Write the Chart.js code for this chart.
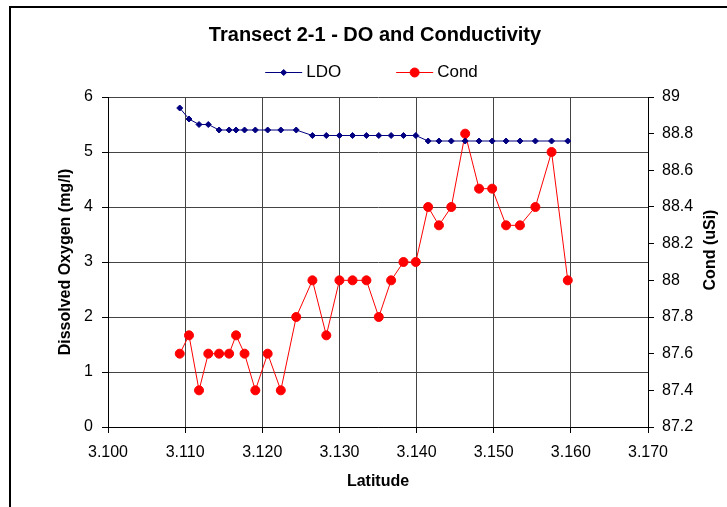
<!DOCTYPE html>
<html>
<head>
<meta charset="utf-8">
<script src="https://cdn.jsdelivr.net/npm/chart.js@4.4.1/dist/chart.umd.min.js"></script>
<style>
  html, body { margin: 0; padding: 0; background: #fff; overflow: hidden; }
  #wrap { position: relative; width: 727px; height: 507px; }
  #frame { position: absolute; left: 9px; top: 6px; width: 900px; height: 900px; border: 2px solid #000; }
  #c { position: absolute; left: 0; top: 0; }
</style>
</head>
<body>
<div id="wrap">
  <div id="frame"></div>
  <canvas id="c" width="727" height="507"></canvas>
</div>
<script>
// ── dati ──
const latitude = [
  3.1093, 3.1105, 3.1118, 3.1130, 3.1144, 3.1157, 3.1166, 3.1177, 3.1191, 3.1207, 3.1224,
  3.1244, 3.1265, 3.1283, 3.1300, 3.1317, 3.1335, 3.1351, 3.1367, 3.1383, 3.1399, 3.1415,
  3.1429, 3.1445, 3.1463, 3.1481, 3.1498, 3.1516, 3.1534, 3.1554, 3.1575, 3.1596
];
const ldo = [
  5.8, 5.6, 5.5, 5.5, 5.4, 5.4, 5.4, 5.4, 5.4, 5.4, 5.4,
  5.4, 5.3, 5.3, 5.3, 5.3, 5.3, 5.3, 5.3, 5.3, 5.3, 5.2,
  5.2, 5.2, 5.2, 5.2, 5.2, 5.2, 5.2, 5.2, 5.2, 5.2
];
const cond = [
  87.6, 87.7, 87.4, 87.6, 87.6, 87.6, 87.7, 87.6, 87.4, 87.6, 87.4,
  87.8, 88.0, 87.7, 88.0, 88.0, 88.0, 87.8, 88.0, 88.1, 88.1, 88.4,
  88.3, 88.4, 88.8, 88.5, 88.5, 88.3, 88.3, 88.4, 88.7, 88.0
];
const xRange = [3.100, 3.170];
const doRange = [0, 6];
const condRange = [87.2, 89];

const FONT = "'Liberation Sans', Arial, sans-serif";
Chart.defaults.font.family = FONT;
Chart.defaults.color = '#000';

// legenda stile Excel (linea + marker) e titolo asse destro
const excelExtras = {
  id: 'excelExtras',
  afterDraw(chart) {
    const ctx = chart.ctx;
    const y = 72;
    ctx.save();
    ctx.font = '17px ' + FONT;
    const items = chart.data.datasets.map(ds => ({ ds, w: ctx.measureText(ds.label).width }));
    const lineLen = 37, gap = 4, itemGap = 55;
    const total = items.reduce((s, it) => s + lineLen + gap + it.w, 0) + itemGap * (items.length - 1);
    let x = chart.width / 2 + 8 - total / 2;
    items.forEach(({ ds, w }) => {
      ctx.strokeStyle = ds.borderColor;
      ctx.lineWidth = 1;
      ctx.beginPath();
      ctx.moveTo(x, y + 0.5);
      ctx.lineTo(x + lineLen, y + 0.5);
      ctx.stroke();
      ctx.fillStyle = ds.backgroundColor;
      Chart.helpers.drawPoint(ctx, {
        pointStyle: ds.pointStyle, radius: ds.pointRadius, rotation: 0, borderWidth: 1
      }, x + lineLen / 2, y + 0.5);
      ctx.fillStyle = '#000';
      ctx.textAlign = 'left';
      ctx.textBaseline = 'middle';
      ctx.fillText(ds.label, x + lineLen + gap, y);
      x += lineLen + gap + w + itemGap;
    });
    // Cond (uSi) ruotato come in Excel
    ctx.translate(711, 250);
    ctx.rotate(-Math.PI / 2);
    ctx.font = 'bold 16px ' + FONT;
    ctx.textAlign = 'center';
    ctx.fillText('Cond (uSi)', 0, 0);
    ctx.restore();
  }
};

new Chart(document.getElementById('c'), {
  type: 'line',
  data: {
    datasets: [
      {
        label: 'LDO', yAxisID: 'y',
        data: latitude.map((x, i) => ({ x, y: ldo[i] })),
        borderColor: '#000080', backgroundColor: '#000080', borderWidth: 1,
        pointStyle: 'rectRot', pointRadius: 3, pointBorderWidth: 1, tension: 0
      },
      {
        label: 'Cond', yAxisID: 'y1',
        data: latitude.map((x, i) => ({ x, y: cond[i] })),
        borderColor: '#FF0000', backgroundColor: '#FF0000', borderWidth: 1,
        pointStyle: 'circle', pointRadius: 4.5, pointBorderWidth: 1, tension: 0
      }
    ]
  },
  options: {
    responsive: false,
    animation: false,
    devicePixelRatio: 1,
    layout: { padding: { left: 23, right: 0, top: 0, bottom: 0 } },
    plugins: {
      legend: { display: false },
      tooltip: { enabled: false },
      title: {
        display: true, text: 'Transect 2-1 - DO and Conductivity', color: '#000',
        font: { size: 20, weight: 'bold' }, padding: { top: 23, bottom: 50 }
      }
    },
    scales: {
      x: {
        type: 'linear', position: 'bottom', min: xRange[0], max: xRange[1],
        ticks: { stepSize: 0.01, callback: v => v.toFixed(3), font: { size: 16 }, padding: 10, maxRotation: 0 },
        grid: { color: '#444', tickColor: '#000', tickLength: 6 },
        border: { color: '#000' },
        title: { display: true, text: 'Latitude', font: { size: 16, weight: 'bold' }, padding: { top: 4, bottom: 16 } },
        afterFit: s => { s.height = 80; }
      },
      y: {
        position: 'left', min: doRange[0], max: doRange[1],
        ticks: { stepSize: 1, font: { size: 16 }, padding: 9 },
        grid: { color: '#444', tickColor: '#000', tickLength: 6 },
        border: { color: '#000' },
        title: { display: true, text: 'Dissolved Oxygen (mg/l)', font: { size: 16, weight: 'bold' }, padding: { top: 33, bottom: 4 } },
        afterFit: s => { s.width = 85; }
      },
      y1: {
        position: 'right', min: condRange[0], max: condRange[1],
        ticks: { stepSize: 0.2, callback: v => String(Number(v.toFixed(1))), font: { size: 16 }, padding: 8 },
        grid: { drawOnChartArea: false, tickColor: '#000', tickLength: 6 },
        border: { color: '#000' },
        afterFit: s => { s.width = 79; }
      }
    }
  },
  plugins: [excelExtras]
});
</script>
</body>
</html>
